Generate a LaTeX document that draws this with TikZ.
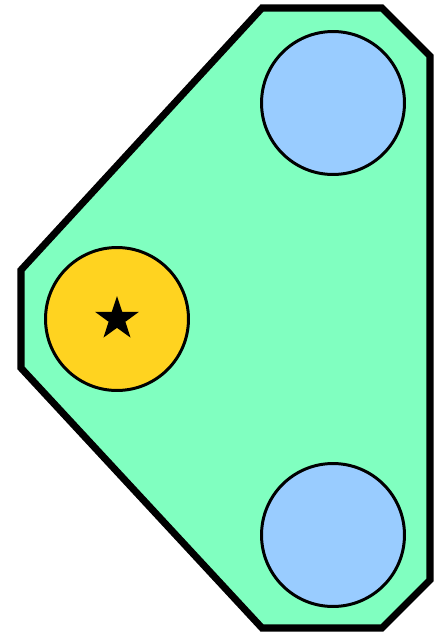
\documentclass[tikz,border=0pt]{standalone}
\usetikzlibrary{shapes.geometric}

\definecolor{hullgreen}{RGB}{128,255,192}
\definecolor{slotblue}{RGB}{153,204,255}
\definecolor{slotyellow}{RGB}{255,211,32}

\tikzset{
  slot/.style={circle, draw=black, line width=1.7pt, minimum size=2.86cm, inner sep=0pt},
}

\begin{document}
\begin{tikzpicture}[x=0.02cm, y=-0.02cm]

	\useasboundingbox (0,0) rectangle (441,636);

	% Hull dimensions
	\def\top{8}
	\def\bottom{628}
	\def\leftx{21}
	\def\rightx{430}

	% Hull
	\draw[line width=4pt, line join=miter, fill=hullgreen]
		(262, \top) -- (382, \top) -- (\rightx, 56) -- (\rightx, 580)
		-- (382, \bottom) -- (262, \bottom) -- (\leftx, 368) -- (\leftx, 270) -- cycle;

	% Slots
	\node[slot, fill=slotblue] (upper) at (333, 103) {};
	\node[slot, fill=slotyellow] (middle) at (117, 319) {};
	\node[slot, fill=slotblue] (lower) at (333, 535) {};

	% Marker
	\node[star, star points=5, star point ratio=2.6, fill=black, minimum size=0.92cm, inner sep=0pt] (mark) at (middle) {};

\end{tikzpicture}
\end{document}
